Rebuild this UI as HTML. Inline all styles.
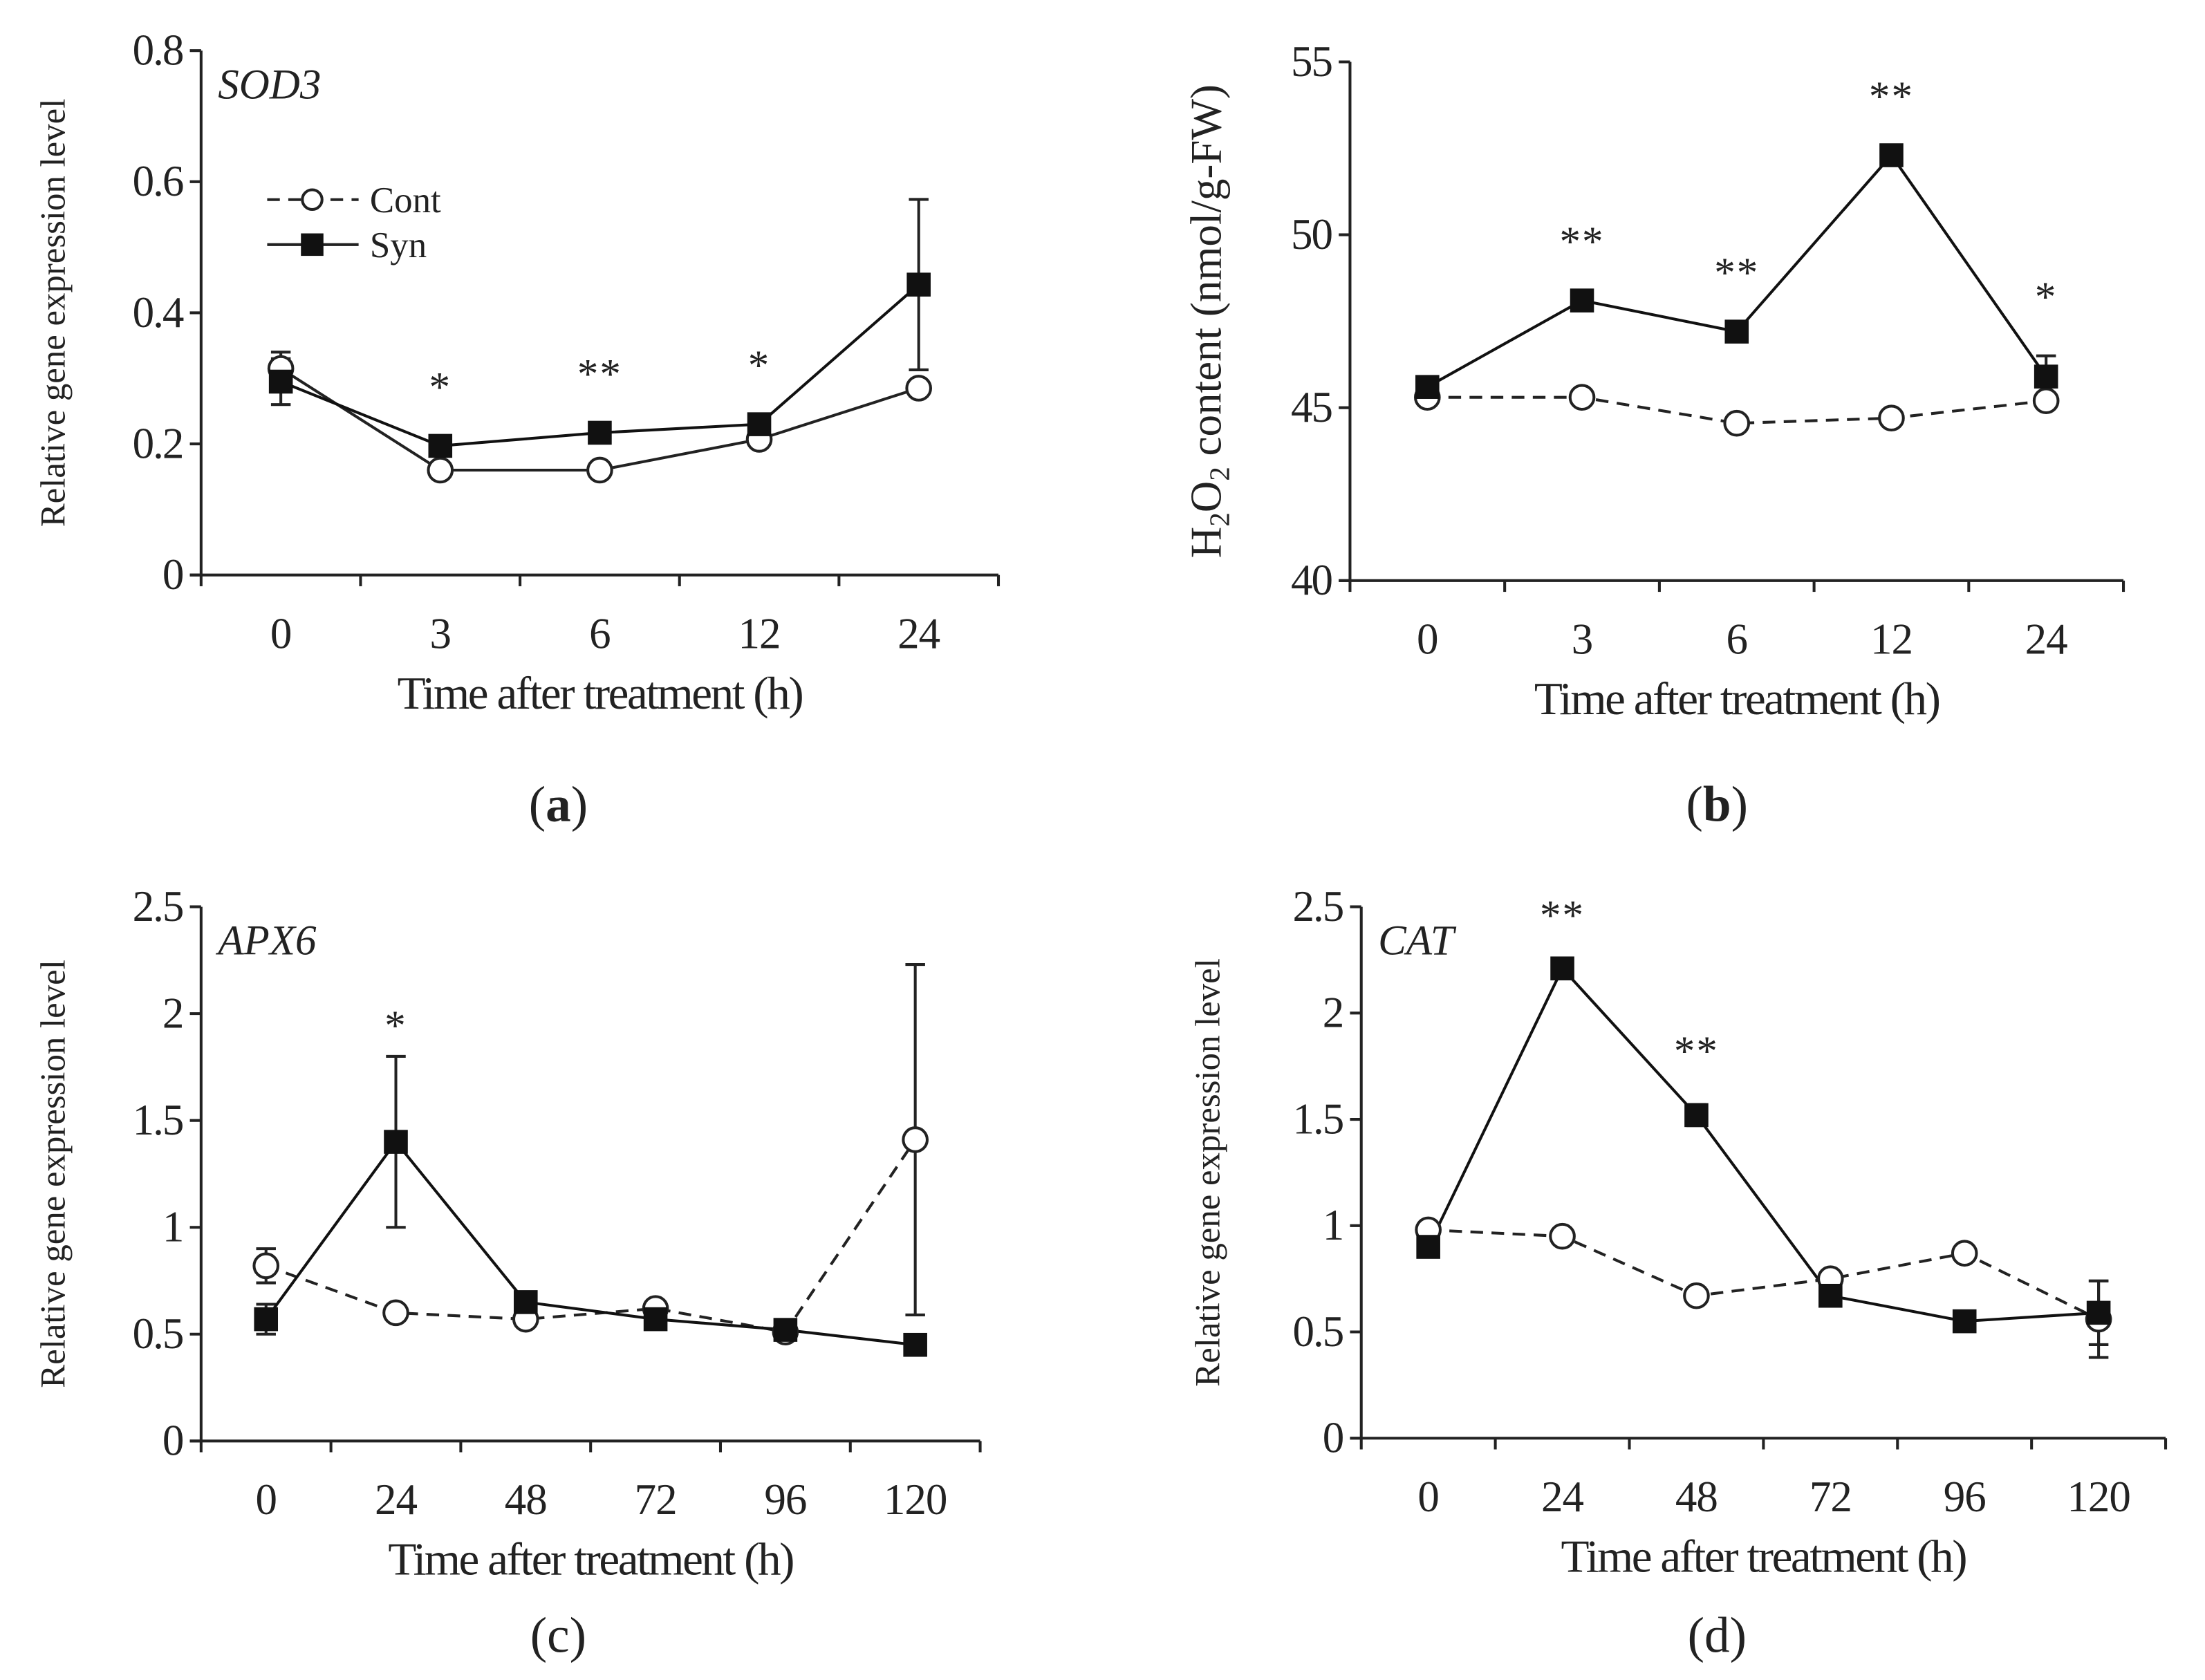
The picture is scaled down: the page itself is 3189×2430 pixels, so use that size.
<!DOCTYPE html>
<html><head><meta charset="utf-8"><style>
html,body{margin:0;padding:0;background:#fff}
svg{display:block}
text{font-family:"Liberation Serif",serif;fill:#222}
</style></head><body>
<svg id="fig" width="3189" height="2430" viewBox="0 0 1568 1195" preserveAspectRatio="none" xmlns="http://www.w3.org/2000/svg"></svg>
<script>
// Panel (a) SOD3
const aCats = ["0","3","6","12","24"];
const aCont = [0.315,0.16,0.16,0.207,0.285];
const aContErr = [0.025,0,0,0,0.012];
const aSyn = [0.295,0.197,0.217,0.23,0.443];
const aSynErr = [0.035,0,0,0,0.13];
const aTicks = [0,0.2,0.4,0.6,0.8];
const aTickLabels = ["0","0.2","0.4","0.6","0.8"];
const aStars = ["","*","**","*",""];
// Panel (b) H2O2
const bCats = ["0","3","6","12","24"];
const bCont = [45.3,45.3,44.55,44.7,45.2];
const bContErr = [0,0,0,0,0];
const bSyn = [45.6,48.1,47.2,52.3,45.9];
const bSynErr = [0,0,0,0,0.6];
const bTicks = [40,45,50,55];
const bTickLabels = ["40","45","50","55"];
const bStars = ["","**","**","**","*"];
// Panel (c) APX6
const cCats = ["0","24","48","72","96","120"];
const cCont = [0.82,0.6,0.57,0.62,0.51,1.41];
const cContErr = [0.08,0,0,0,0,0.82];
const cSyn = [0.57,1.4,0.65,0.57,0.52,0.45];
const cSynErr = [0.07,0.4,0,0,0,0];
const cTicks = [0,0.5,1,1.5,2,2.5];
const cTickLabels = ["0","0.5","1","1.5","2","2.5"];
const cStars = ["","*","","","",""];
// Panel (d) CAT
const dCats = ["0","24","48","72","96","120"];
const dCont = [0.98,0.95,0.67,0.75,0.87,0.56];
const dContErr = [0,0,0,0,0,0.18];
const dSyn = [0.9,2.21,1.52,0.67,0.55,0.59];
const dSynErr = [0,0,0.05,0,0,0.15];
const dTicks = [0,0.5,1,1.5,2,2.5];
const dTickLabels = ["0","0.5","1","1.5","2","2.5"];
const dStars = ["","**","**","","",""];

const NS="http://www.w3.org/2000/svg";
const svg=document.getElementById('fig');
function el(tag,attrs,parent,txt){const e=document.createElementNS(NS,tag);for(const k in attrs)e.setAttribute(k,attrs[k]);if(txt!==undefined)e.textContent=txt;(parent||svg).appendChild(e);return e;}

function panel(o){
  const g=el('g',{});
  
  
  const n=o.cats.length, step=(o.x1-o.x0)/n;
  const ymin=o.ticks[0], ymax=o.ticks[o.ticks.length-1];
  const X=i=>o.x0+(i+0.5)*step;
  const Y=v=>o.yb-(v-ymin)/(ymax-ymin)*(o.yb-o.yt);
  const ya=el('line',{x1:o.x0,y1:o.yt,x2:o.x0,y2:o.yb,stroke:'#222','stroke-width':2},g);
  
  const xa=el('line',{x1:o.x0-8,y1:o.yb,x2:o.x1,y2:o.yb,stroke:'#222','stroke-width':2},g);
  
  o.ticks.forEach((t,i)=>{
    el('line',{x1:o.x0-8,y1:Y(t),x2:o.x0,y2:Y(t),stroke:'#222','stroke-width':2},g);
    const tl=el('text',{x:o.x0-13,y:Y(t)+10,'text-anchor':'end','font-size':31,'letter-spacing':-1},g,o.tickLabels[i]);
    
  });
  for(let i=0;i<=n;i++) el('line',{x1:o.x0+i*step,y1:o.yb,x2:o.x0+i*step,y2:o.yb+8,stroke:'#222','stroke-width':2},g);
  o.cats.forEach((c,i)=>{
    const tl=el('text',{x:X(i),y:o.yb+52,'text-anchor':'middle','font-size':31,'letter-spacing':-0.5},g,c);
    
  });
  const xt=el('text',{x:(o.x0+o.x1)/2,y:o.yb+95,'text-anchor':'middle','font-size':33,'letter-spacing':-1.2},g,'Time after treatment (h)');
  
  const yt=el('text',{x:0,y:0,'text-anchor':'middle','font-size':o.ytSize,transform:`translate(${o.ytx},${(o.yt+o.yb)/2}) rotate(-90)`},g);
  
  if(o.h2o2){
    yt.appendChild(document.createTextNode('H'));
    el('tspan',{'font-size':o.ytSize*0.65,dy:6},yt,'2');
    el('tspan',{dy:-6},yt,'O');
    el('tspan',{'font-size':o.ytSize*0.65,dy:6},yt,'2');
    el('tspan',{dy:-6},yt,' content (nmol/g-FW)');
  } else yt.textContent='Relative gene expression level';
  if(o.gene){
    const gn=el('text',{x:o.x0+12,y:o.yt+34,'font-size':30,'font-style':'italic'},g,o.gene);
    
  }
  function err(vals,errs,name){
    vals.forEach((v,i)=>{ if(!errs[i])return;
      const e=el('path',{d:`M${X(i)},${Y(v-errs[i])}V${Y(v+errs[i])}M${X(i)-7},${Y(v+errs[i])}h14M${X(i)-7},${Y(v-errs[i])}h14`,stroke:'#222','stroke-width':2,fill:'none'},g);
      
    });
  }
  err(o.cont,o.contErr,'cont');err(o.syn,o.synErr,'syn');
  const cl=el('polyline',{points:o.cont.map((v,i)=>X(i)+','+Y(v)).join(' '),fill:'none',stroke:'#222','stroke-width':2,'stroke-dasharray':o.contDash?'9,6':'none'},g);
  
  const sl=el('polyline',{points:o.syn.map((v,i)=>X(i)+','+Y(v)).join(' '),fill:'none',stroke:'#111','stroke-width':2},g);
  
  o.cont.forEach((v,i)=>{
    const c=el('circle',{cx:X(i),cy:Y(v),r:8.5,fill:'#fff',stroke:'#222','stroke-width':2},g);
    
  });
  o.syn.forEach((v,i)=>{
    const r=el('rect',{x:X(i)-8.5,y:Y(v)-8.5,width:17,height:17,fill:'#111'},g);
    
  });
  o.stars.forEach((s,i)=>{ if(!s)return;
    const top=Math.max(o.syn[i]+o.synErr[i],o.cont[i]+o.contErr[i]);
    const st=el('text',{x:X(i),y:Y(top)-o.starGap,'text-anchor':'middle','font-size':30,'letter-spacing':1},g,s);
    
  });
  const pl=el('text',{x:o.plx,y:o.ply,'text-anchor':'middle','font-size':36},g);
  
  pl.appendChild(document.createTextNode('('));
  el('tspan',{'font-weight':o.boldLabel?'bold':'normal'},pl,o.label);
  pl.appendChild(document.createTextNode(')'));
  return g;
}

panel({name:'panel-a-sod3',cats:aCats,cont:aCont,contErr:aContErr,syn:aSyn,synErr:aSynErr,ticks:aTicks,tickLabels:aTickLabels,stars:aStars,
  x0:143,x1:710,yt:36,yb:409,ytx:46,ytSize:25,gene:'SOD3',contDash:false,starGap:32,plx:397,ply:584,label:'a',boldLabel:true});
panel({name:'panel-b-h2o2',cats:bCats,cont:bCont,contErr:bContErr,syn:bSyn,synErr:bSynErr,ticks:bTicks,tickLabels:bTickLabels,stars:bStars,
  x0:960,x1:1510,yt:44,yb:413,ytx:868,ytSize:31,h2o2:true,contDash:true,starGap:32,plx:1221,ply:584,label:'b',boldLabel:true});
panel({name:'panel-c-apx6',cats:cCats,cont:cCont,contErr:cContErr,syn:cSyn,synErr:cSynErr,ticks:cTicks,tickLabels:cTickLabels,stars:cStars,
  x0:143,x1:697,yt:645,yb:1025,ytx:46,ytSize:25,gene:'APX6',contDash:true,starGap:12,plx:397,ply:1175,label:'c',boldLabel:false});
panel({name:'panel-d-cat',cats:dCats,cont:dCont,contErr:dContErr,syn:dSyn,synErr:dSynErr,ticks:dTicks,tickLabels:dTickLabels,stars:dStars,
  x0:968,x1:1540,yt:645,yb:1023,ytx:867,ytSize:25,gene:'CAT',contDash:true,starGap:28,plx:1221,ply:1175,label:'d',boldLabel:false});

const lg=el('g',{});


const l1=el('g',{},lg);


el('line',{x1:190,y1:142,x2:255,y2:142,stroke:'#222','stroke-width':2,'stroke-dasharray':'9,6'},l1);
el('circle',{cx:222,cy:142,r:7,fill:'#fff',stroke:'#222','stroke-width':2},l1);
el('text',{x:263,y:151,'font-size':26},l1,'Cont');
const l2=el('g',{},lg);


el('line',{x1:190,y1:174,x2:255,y2:174,stroke:'#222','stroke-width':2},l2);
el('rect',{x:214,y:166,width:16,height:16,fill:'#111'},l2);
el('text',{x:263,y:183,'font-size':26},l2,'Syn');
</script>
</body></html>
